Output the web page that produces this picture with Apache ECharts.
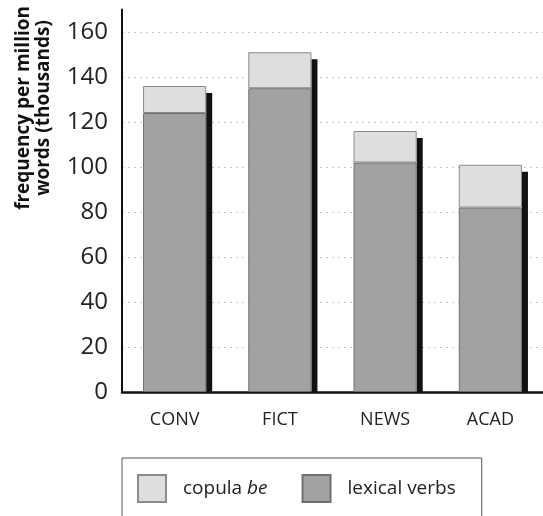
<!DOCTYPE html>
<html>
<head>
<meta charset="utf-8">
<script src="https://cdn.jsdelivr.net/npm/echarts@6/dist/echarts.min.js"></script>
<style>
  html, body { margin: 0; padding: 0; background: #fff; }
  #chart { width: 543px; height: 516px; }
</style>
</head>
<body>
<div id="chart"></div>
<script>
const registers = ["CONV", "FICT", "NEWS", "ACAD"];
const lexicalVerbs = [124, 135, 102, 82];
const copulaBe = [12, 16, 14, 19];
const yTicks = [0, 20, 40, 60, 80, 100, 120, 140, 160];

const font = "'Open Sans', 'DejaVu Sans', sans-serif";
const totals = registers.map((_, i) => lexicalVerbs[i] + copulaBe[i]);

const chart = echarts.init(document.getElementById("chart"), null, { renderer: "canvas" });

chart.setOption({
  backgroundColor: "#fff",
  animation: false,
  grid: { left: 122, right: -10, top: 9.5, bottom: 124 },
  xAxis: {
    type: "category",
    data: registers,
    axisLine: { lineStyle: { color: "#111", width: 2.5 } },
    axisTick: { show: false },
    axisLabel: { fontSize: 18, color: "#222", fontFamily: font, margin: 19 },
  },
  yAxis: {
    type: "value",
    min: yTicks[0],
    max: 170,
    interval: 20,
    axisLine: { show: true, lineStyle: { color: "#111", width: 2 } },
    axisTick: { show: false },
    axisLabel: {
      fontSize: 24,
      color: "#222",
      fontFamily: font,
      margin: 14,
      padding: [0, 0, 14, 0],
      showMaxLabel: false,
    },
    splitLine: {
      showMaxLine: false,
      lineStyle: { color: "#c4c4c4", type: [2, 4], width: 1 },
    },
  },
  legend: {
    data: ["copula be", "lexical verbs"],
    icon: "rect",
    left: 122,
    top: 458,
    padding: [16, 26, 40, 15],
    itemGap: 34,
    itemWidth: 28,
    itemHeight: 27,
    borderColor: "#555",
    borderWidth: 1,
    formatter: (name) =>
      name === "copula be" ? "{a|copula }{b|be}" : "{a|" + name + "}",
    textStyle: {
      color: "#222",
      fontFamily: font,
      fontSize: 19,
      rich: {
        a: { fontSize: 19, fontFamily: font, color: "#222", padding: [0, 0, 0, 12] },
        b: { fontSize: 19, fontFamily: font, color: "#222", fontStyle: "italic" },
      },
    },
  },
  graphic: [
    {
      type: "text",
      left: 14,
      top: 6,
      rotation: Math.PI / 2,
      originX: 0,
      originY: 0,
      style: {
        text: "frequency per million\nwords (thousands)",
        fontSize: 19,
        fontWeight: "bold",
        fontFamily: font,
        fill: "#111",
        textAlign: "center",
        lineHeight: 20,
      },
    },
  ],
  series: [
    {
      name: "lexical verbs",
      type: "bar",
      stack: "verbs",
      barWidth: "60%",
      data: lexicalVerbs,
      itemStyle: { color: "#a2a2a2", borderColor: "#6f6f6f", borderWidth: 1 },
    },
    {
      name: "copula be",
      type: "bar",
      stack: "verbs",
      barWidth: "60%",
      data: copulaBe,
      itemStyle: { color: "#dedede", borderColor: "#8a8a8a", borderWidth: 1 },
    },
    {
      name: "shadow",
      type: "custom",
      data: totals.map((t, i) => [i, t]),
      z: 1,
      renderItem: (params, api) => {
        const top = api.coord([api.value(0), api.value(1)]);
        const base = api.coord([api.value(0), 0]);
        const bw = api.size([1, 0])[0] * 0.6;
        return {
          type: "rect",
          shape: { x: top[0] + bw / 2, y: top[1] + 7, width: 6, height: base[1] - top[1] - 7 },
          style: { fill: "#111" },
        };
      },
    },
  ],
});
</script>
</body>
</html>
